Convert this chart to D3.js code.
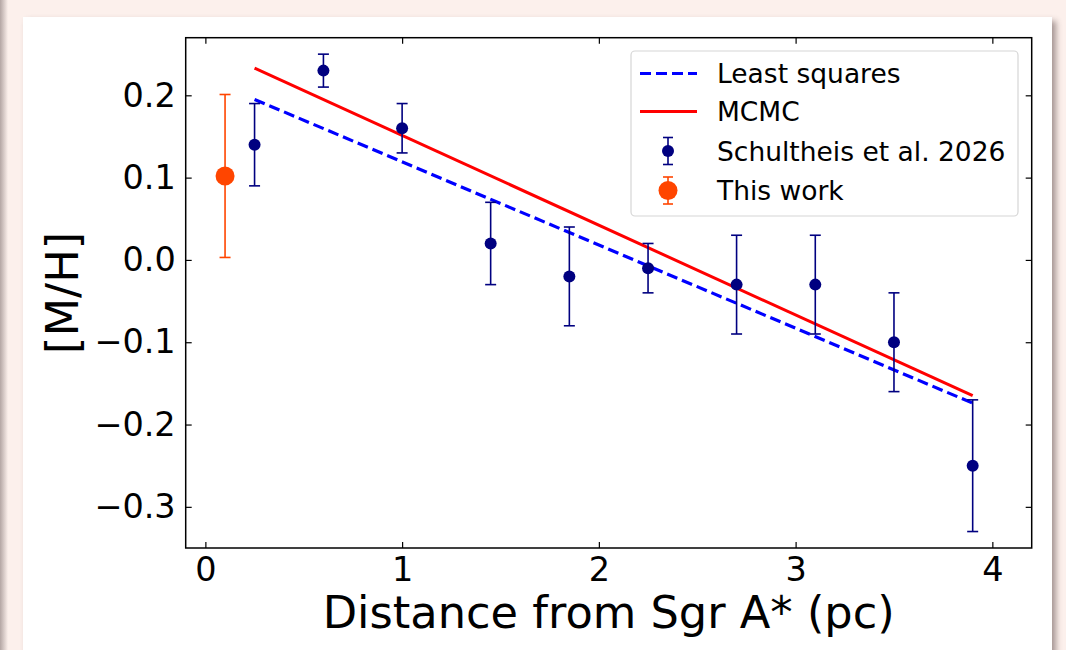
<!DOCTYPE html>
<html>
<head>
<meta charset="utf-8">
<script src="https://cdn.jsdelivr.net/npm/d3@7"></script>
<style>
  html, body { margin: 0; padding: 0; }
  body {
    width: 1066px; height: 650px; overflow: hidden;
    background: #fcf0ec; position: relative;
    font-family: "DejaVu Sans", sans-serif;
  }
  #edge {
    position: absolute; left: 0; top: 0; width: 8px; height: 650px;
    background: linear-gradient(to right, rgba(120,105,105,0.55), rgba(120,105,105,0.0));
  }
  #card {
    position: absolute; left: 23px; top: 17px; width: 1029px; height: 660px;
    background: #fff; box-shadow: 4px 4px 6px rgba(60,40,40,0.45);
  }
  #svg { position: absolute; left: 0; top: 0; }
</style>
</head>
<body>
<div id="edge"></div>
<div id="card"></div>
<svg id="svg" width="1066" height="650"></svg>
<script>
// Schultheis et al. 2026 measurements
var distances = [0.25, 0.6, 1.0, 1.45, 1.85, 2.25, 2.7, 3.1, 3.5, 3.9];
var metallicity = [0.14, 0.23, 0.16, 0.02, -0.02, -0.01, -0.03, -0.03, -0.10, -0.25];
var metalErrors = [0.05, 0.02, 0.03, 0.05, 0.06, 0.03, 0.06, 0.06, 0.06, 0.08];

// this work
var workDistance = [0.1];
var workMetal = [0.102];
var workError = [0.099];

// fitted lines (end points)
var fitX = [0.25, 3.9];
var lsqY = [0.195, -0.174];
var mcmcY = [0.233, -0.165];

var xTicks = [0, 1, 2, 3, 4];
var yTicks = [-0.3, -0.2, -0.1, 0.0, 0.1, 0.2];
var legendLabels = ["Least squares", "MCMC", "Schultheis et al. 2026", "This work"];

var svg = d3.select("#svg");
var plotLeft = 185.7, plotRight = 1031.7, plotTop = 37.7, plotBottom = 548;

var xScale = d3.scaleLinear().domain([-0.1, 4.2]).range([plotLeft, plotRight]);
var yScale = d3.scaleLinear().domain([-0.35, 0.27]).range([plotBottom, plotTop]);

//axes with inward ticks on all four sides
function styleAxis(g) {
  g.select(".domain").remove();
  g.selectAll(".tick line").attr("stroke", "#000").attr("stroke-width", 1.2);
  g.selectAll(".tick text")
    .attr("fill", "#000")
    .style("font-family", "DejaVu Sans")
    .style("font-size", "33.5px");
}

svg.append("g")
  .attr("transform", `translate(0, ${plotBottom})`)
  .call(d3.axisBottom(xScale).tickValues(xTicks).tickFormat(d3.format("d")).tickSize(-6).tickPadding(9))
  .call(styleAxis);
svg.append("g")
  .attr("transform", `translate(0, ${plotTop})`)
  .call(d3.axisTop(xScale).tickValues(xTicks).tickFormat("").tickSize(-6))
  .call(styleAxis);
svg.append("g")
  .attr("transform", `translate(${plotLeft}, 0)`)
  .call(d3.axisLeft(yScale).tickValues(yTicks).tickFormat(d3.format(".1f")).tickSize(-6).tickPadding(10))
  .call(styleAxis);
svg.append("g")
  .attr("transform", `translate(${plotRight}, 0)`)
  .call(d3.axisRight(yScale).tickValues(yTicks).tickFormat("").tickSize(-6))
  .call(styleAxis);

svg.append("rect")
  .attr("x", plotLeft)
  .attr("y", plotTop)
  .attr("width", plotRight - plotLeft)
  .attr("height", plotBottom - plotTop)
  .attr("fill", "none")
  .attr("stroke", "#000")
  .attr("stroke-width", 1.5);

// axis titles
svg.append("text")
  .attr("x", (plotLeft + plotRight) / 2)
  .attr("y", 628)
  .attr("text-anchor", "middle")
  .style("font-size", "44.7px")
  .text("Distance from Sgr A* (pc)");

svg.append("text")
  .attr("transform", `translate(78, ${(plotTop + plotBottom) / 2}) rotate(-90)`)
  .attr("text-anchor", "middle")
  .style("font-size", "44.7px")
  .text("[M/H]");

// fit lines
var line = d3.line().x(d => xScale(d[0])).y(d => yScale(d[1]));

svg.append("path")
  .datum(d3.zip(fitX, mcmcY))
  .attr("d", line)
  .attr("fill", "none")
  .attr("stroke", "#ff0000")
  .attr("stroke-width", 3);

svg.append("path")
  .datum(d3.zip(fitX, lsqY))
  .attr("d", line)
  .attr("fill", "none")
  .attr("stroke", "#0000ff")
  .attr("stroke-width", 3.2)
  .attr("stroke-dasharray", "11,5");

// error bars
function drawErrorbars(xs, ys, errs, color, radius) {
  var g = svg.append("g");
  xs.forEach(function (x, i) {
    var cx = xScale(x);
    var y0 = yScale(ys[i] - errs[i]);
    var y1 = yScale(ys[i] + errs[i]);
    g.append("line")
      .attr("x1", cx).attr("x2", cx)
      .attr("y1", y0).attr("y2", y1)
      .attr("stroke", color).attr("stroke-width", 1.6);
    [y0, y1].forEach(function (yy) {
      g.append("line")
        .attr("x1", cx - 5.5).attr("x2", cx + 5.5)
        .attr("y1", yy).attr("y2", yy)
        .attr("stroke", color).attr("stroke-width", 1.6);
    });
    g.append("circle")
      .attr("cx", cx)
      .attr("cy", yScale(ys[i]))
      .attr("r", radius)
      .attr("fill", color);
  });
}

drawErrorbars(distances, metallicity, metalErrors, "#000080", 6);
drawErrorbars(workDistance, workMetal, workError, "#ff4500", 9.5);

// legend
var legend = svg.append("g");
legend.append("rect")
  .attr("x", 631)
  .attr("y", 51)
  .attr("width", 387)
  .attr("height", 165)
  .attr("rx", 4)
  .attr("fill", "#fff")
  .attr("fill-opacity", 0.8)
  .attr("stroke", "#d6d6d6")
  .attr("stroke-width", 1.2);

var rowY = [73.5, 111.5, 151, 190.5];

legend.append("line")
  .attr("x1", 640).attr("x2", 697)
  .attr("y1", rowY[0]).attr("y2", rowY[0])
  .attr("stroke", "#0000ff").attr("stroke-width", 3.2)
  .attr("stroke-dasharray", "11,5");
legend.append("line")
  .attr("x1", 640).attr("x2", 697)
  .attr("y1", rowY[1]).attr("y2", rowY[1])
  .attr("stroke", "#ff0000").attr("stroke-width", 3);

function legendMarker(cy, half, color, radius) {
  legend.append("line")
    .attr("x1", 668).attr("x2", 668)
    .attr("y1", cy - half).attr("y2", cy + half)
    .attr("stroke", color).attr("stroke-width", 1.6);
  [cy - half, cy + half].forEach(function (yy) {
    legend.append("line")
      .attr("x1", 663).attr("x2", 673)
      .attr("y1", yy).attr("y2", yy)
      .attr("stroke", color).attr("stroke-width", 1.6);
  });
  legend.append("circle")
    .attr("cx", 668).attr("cy", cy).attr("r", radius).attr("fill", color);
}
legendMarker(rowY[2], 13.5, "#000080", 6);
legendMarker(rowY[3], 13.5, "#ff4500", 9.5);

legend.selectAll("text.lbl")
  .data(legendLabels)
  .enter()
  .append("text")
  .attr("class", "lbl")
  .attr("x", 717)
  .attr("y", (d, i) => rowY[i] + 9.5)
  .style("font-size", "26.5px")
  .text(d => d);
</script>
</body>
</html>
